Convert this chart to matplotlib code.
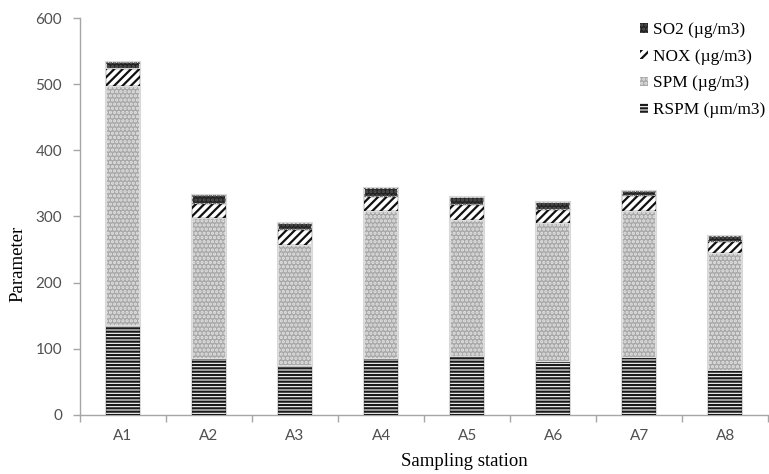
import matplotlib
matplotlib.use("Agg")
import matplotlib.pyplot as plt
import numpy as np
from matplotlib.patches import Patch

stations = ["A1", "A2", "A3", "A4", "A5", "A6", "A7", "A8"]
rspm = [134, 84, 74, 85, 88, 80, 86, 67]
spm = [363, 213, 183, 224, 207, 210, 223, 178]
nox = [26, 22, 22, 21, 23, 20, 22, 17]
so2 = [11, 14, 11, 13, 11, 12, 7, 8]
yticks = [0, 100, 200, 300, 400, 500, 600]

plt.rcParams['hatch.linewidth'] = 1.6

fig = plt.figure(figsize=(7.69, 4.74), dpi=100)
ax = fig.add_axes([0.104, 0.1245, 0.895, 0.8375])

x = np.arange(len(stations))
w = 0.40
edge = '#d8d8d8'

series = [
    ("RSPM (\u00b5m/m3)", rspm, 'white', '#1a1a1a', '-----'),
    ("SPM (\u00b5g/m3)", spm, '#a8a8a8', '#e4e4e4', '....'),
    ("NOX (\u00b5g/m3)", nox, 'white', '#111111', '////'),
    ("SO2 (\u00b5g/m3)", so2, '#222222', '#555555', '....'),
]

bottom = np.zeros(len(stations))
handles = []
for label, vals, fc, hc, hatch in series:
    vals = np.array(vals, dtype=float)
    ax.bar(x, vals, w, bottom=bottom, color=fc, edgecolor=edge, linewidth=1.5, zorder=2)
    ax.bar(x, vals, w, bottom=bottom, fill=False, edgecolor=hc, hatch=hatch, linewidth=0, zorder=3)
    bottom += vals
    handles.append(Patch(facecolor=fc, edgecolor=hc, hatch=hatch, linewidth=0, label=label))

ax.set_xlim(-0.5, len(stations) - 0.5)
ax.set_ylim(0, 600)
ax.set_yticks(yticks)
ax.set_xticks(x)
ax.set_xticklabels(stations)
ax.set_xticks(np.arange(len(stations) + 1) - 0.5, minor=True)
ax.tick_params(axis='x', which='major', length=0, pad=10)
ax.tick_params(axis='x', which='minor', length=5, color='#a6a6a6', width=1)
ax.tick_params(axis='y', length=5, color='#a6a6a6', width=1, pad=8)
for t in ax.get_xticklabels() + ax.get_yticklabels():
    t.set_family('Lato')
    t.set_fontsize(11)
    t.set_color('#505050')

for s in ['top', 'right']:
    ax.spines[s].set_visible(False)
for s in ['left', 'bottom']:
    ax.spines[s].set_color('#a6a6a6')
    ax.spines[s].set_linewidth(1)

ax.set_ylabel("Parameter", family='Liberation Serif', fontsize=13.5)
ax.set_xlabel("Sampling station", family='Liberation Serif', fontsize=13.5)
ax.yaxis.set_label_coords(-0.078, 0.38)
ax.xaxis.set_label_coords(0.558, -0.095)

leg = ax.legend(handles[::-1], [h.get_label() for h in handles[::-1]],
                loc='upper right', bbox_to_anchor=(1.005, 1.007), frameon=False,
                prop={'family': 'Liberation Serif', 'size': 12.4},
                handlelength=0.45, handleheight=0.45, handletextpad=0.25,
                labelspacing=0.62, borderaxespad=0.0)

fig.savefig("out.png", dpi=100)
